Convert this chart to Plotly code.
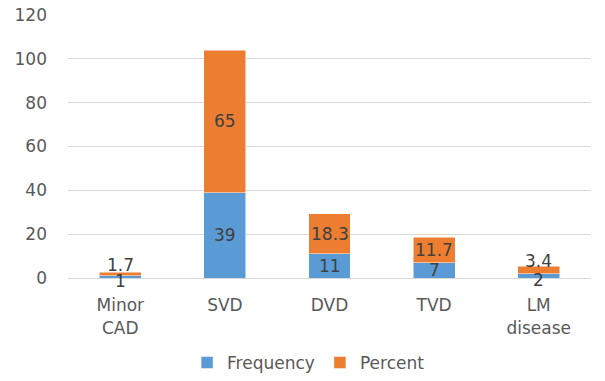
import plotly.graph_objects as go

categories = ["Minor<br>CAD", "SVD", "DVD", "TVD", "LM<br>disease"]
frequency = [1, 39, 11, 7, 2]
percent = [1.7, 65, 18.3, 11.7, 3.4]
y_ticks = [0, 20, 40, 60, 80, 100, 120]

FONT = "DejaVu Sans"
TXT = "#595959"
LBL = "#404040"

fig = go.Figure()
fig.add_trace(go.Bar(
    x=categories, y=frequency, name="Frequency",
    marker=dict(color="#5B9BD5", line=dict(color="#FFFFFF", width=0.5)),
))
fig.add_trace(go.Bar(
    x=categories, y=percent, name="Percent",
    marker=dict(color="#ED7D31", line=dict(color="#FFFFFF", width=0.5)),
))

# data labels centred in each segment (small stacks get nudged apart)
annotations = []
for cat, f, p in zip(categories, frequency, percent):
    small = (f + p) < 6
    annotations.append(dict(x=cat, y=f / 2, text=str(f), showarrow=False,
                            xref="x", yref="y", yshift=-4 if small else 0,
                            font=dict(family=FONT, size=17, color=LBL)))
    annotations.append(dict(x=cat, y=f + p / 2, text=str(p), showarrow=False,
                            xref="x", yref="y", yshift=9 if small else 0,
                            font=dict(family=FONT, size=17, color=LBL)))

fig.update_layout(
    barmode="stack",
    bargap=0.6,
    width=605, height=381,
    margin=dict(l=68, r=14, t=15, b=103, autoexpand=False),
    paper_bgcolor="white", plot_bgcolor="white",
    font=dict(family=FONT, size=17, color=TXT),
    showlegend=True,
    legend=dict(orientation="h", x=0.46, xanchor="center", y=-0.323, yanchor="middle",
                font=dict(family=FONT, size=17, color=TXT), itemwidth=30,
                traceorder="normal"),
    annotations=annotations,
)
fig.update_yaxes(range=[0, 120], tickvals=y_ticks, showgrid=True, gridcolor="#D9D9D9",
                 gridwidth=1, zeroline=False, showline=False, ticks="",
                 tickfont=dict(family=FONT, size=17, color=TXT), ticklabelstandoff=20,
                 automargin=False)
fig.update_xaxes(showline=True, linecolor="#D9D9D9", linewidth=1, ticks="",
                 tickfont=dict(family=FONT, size=17, color=TXT), ticklabelstandoff=12,
                 automargin=False)

fig.write_html("out.html", config={"displayModeBar": False},
               post_script="document.body.style.margin='0px';document.body.style.overflow='hidden';")
